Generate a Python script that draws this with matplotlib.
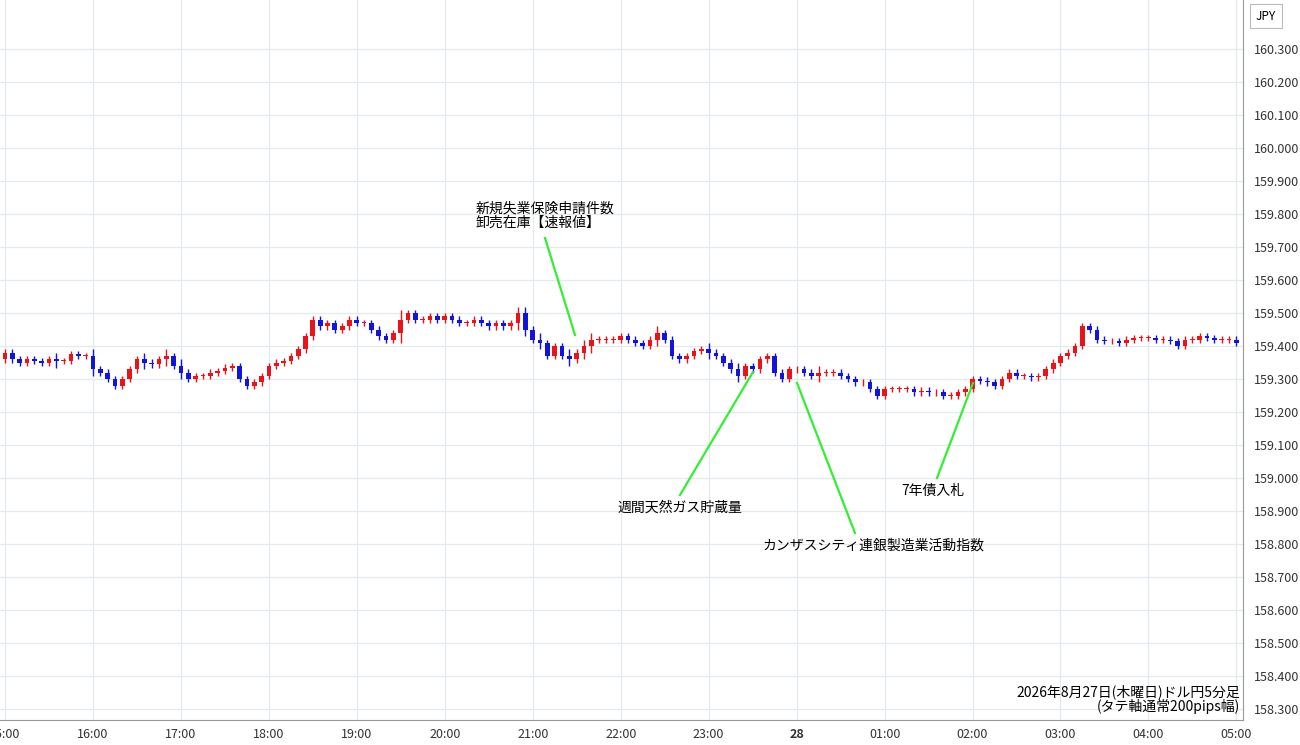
import matplotlib
matplotlib.use("Agg")
import matplotlib.pyplot as plt
from matplotlib.patches import Rectangle

plt.rcParams['font.family'] = ['Noto Sans CJK JP', 'DejaVu Sans']

closes = [
159.38,159.36,159.35,159.36,159.355,159.35,159.36,159.355,159.355,159.375,159.37,159.37,
159.33,159.32,159.30,159.28,159.30,159.33,159.36,159.35,159.345,159.36,159.37,159.34,
159.32,159.30,159.31,159.31,159.32,159.325,159.335,159.34,159.30,159.28,159.29,159.31,
159.34,159.35,159.355,159.37,159.39,159.43,159.48,159.46,159.47,159.45,159.46,159.48,
159.47,159.47,159.45,159.43,159.42,159.44,159.48,159.50,159.48,159.48,159.49,159.48,
159.49,159.48,159.47,159.47,159.48,159.47,159.46,159.47,159.46,159.47,159.50,159.45,
159.42,159.41,159.37,159.40,159.37,159.36,159.38,159.40,159.42,159.42,159.42,159.42,
159.43,159.42,159.41,159.40,159.42,159.44,159.42,159.37,159.36,159.37,159.385,159.39,
159.38,159.37,159.35,159.33,159.31,159.34,159.33,159.36,159.37,159.32,159.30,159.33,
159.33,159.32,159.31,159.32,159.32,159.32,159.31,159.30,159.29,159.29,159.27,159.25,
159.27,159.27,159.27,159.27,159.26,159.265,159.26,159.26,159.25,159.25,159.26,159.27,
159.30,159.295,159.29,159.28,159.30,159.32,159.31,159.31,159.305,159.31,159.33,159.35,
159.37,159.38,159.40,159.46,159.45,159.42,159.415,159.415,159.41,159.42,159.425,159.425,
159.425,159.42,159.42,159.415,159.40,159.42,159.42,159.43,159.425,159.42,159.42,159.42,
159.41]
first_open = 159.36
wick_pips = [1,1,1,1,1,1,1,2,1,1,1,1, 2,1,1,1,1,1,1,2,1,1,2,1, 2,1,1,1,1,1,1,1,1,1,1,1,
             1,1,1,1,1,1,1,1,1,1,1,1, 1,1,1,1,1,1,3,1,1,1,1,1, 1,1,1,1,1,1,1,1,1,1,2,2,
             1,2,1,1,1,2,1,2,2,1,1,1, 1,1,1,1,1,2,1,1,1,1,1,1, 2,1,1,1,2,1,1,1,1,1,1,1,
             1,1,1,2,1,1,1,1,1,1,1,1, 1,1,1,1,1,1,1,1,1,1,1,1, 1,1,1,1,1,1,1,1,1,1,1,1,
             1,1,1,1,1,1,1,1,1,1,1,1, 1,1,1,1,1,1,1,1,1,1,1,1, 1]
hour_labels = ["15:00","16:00","17:00","18:00","19:00","20:00","21:00","22:00","23:00",
               "28","01:00","02:00","03:00","04:00","05:00"]
yticks = [158.3 + 0.1*k for k in range(21)]

fig = plt.figure(figsize=(13, 7.45), dpi=100)
ax = fig.add_axes([0, 25/745, 1243/1300, 720/745])
ax.set_xlim(-0.68, 168.9)
ax.set_ylim(158.267, 160.449)

opens = [first_open] + closes[:-1]
for i, (o, c) in enumerate(zip(opens, closes)):
    col = '#e8141c' if c >= o else '#1414d8'
    w = wick_pips[i] * 0.01
    ax.vlines(i, min(o, c) - w, max(o, c) + w, color=col, lw=1, zorder=3)
    h = max(abs(c - o), 0.002)
    ax.add_patch(Rectangle((i - 0.32, min(o, c)), 0.64, h, color=col, zorder=4, lw=0))

ax.set_xticks([12*k for k in range(15)])
ax.set_xticklabels(hour_labels, fontsize=9, color='#333')
for lab in ax.get_xticklabels():
    if lab.get_text() == "28":
        lab.set_fontweight('bold')
ax.yaxis.tick_right()
ax.set_yticks(yticks)
ax.set_yticklabels([f"{v:.3f}" for v in yticks], fontsize=9, color='#333')
ax.tick_params(length=0, pad=8)
ax.tick_params(axis='x', pad=6)
ax.grid(True, color='#e3e9ef', lw=0.9)
for s in ['top', 'left']:
    ax.spines[s].set_visible(False)
ax.spines['right'].set_color('#999')
ax.spines['bottom'].set_color('#999')

fig.text(1266/1300, 729/745, "JPY", fontsize=8.5, ha='center', va='center',
         bbox=dict(boxstyle='square,pad=0.5', fc='white', ec='#bbb', lw=0.8))

def note(x0, y0, x1, y1, text, tx, ty, ha):
    fig.add_artist(plt.Line2D([x0/1300, x1/1300], [1-y0/745, 1-y1/745], color='#33ee33', lw=1.6))
    fig.text(tx/1300, 1-ty/745, text, fontsize=10, ha=ha, va='center', linespacing=1.0)

note(575, 335, 545, 238, "新規失業保険申請件数\n卸売在庫【速報値】", 476, 216, 'left')
note(753, 372, 680, 495, "週間天然ガス貯蔵量", 680, 508, 'center')
note(797, 383, 855, 533, "カンザスシティ連銀製造業活動指数", 873, 546, 'center')
note(973, 383, 937, 478, "7年債入札", 933, 491, 'center')
fig.text(1240/1300, 1-699/745, "2026年8月27日(木曜日)ドル円5分足\n(タテ軸通常200pips幅)",
         fontsize=10, ha='right', va='center', linespacing=1.0)

fig.savefig("out.png", dpi=100)
